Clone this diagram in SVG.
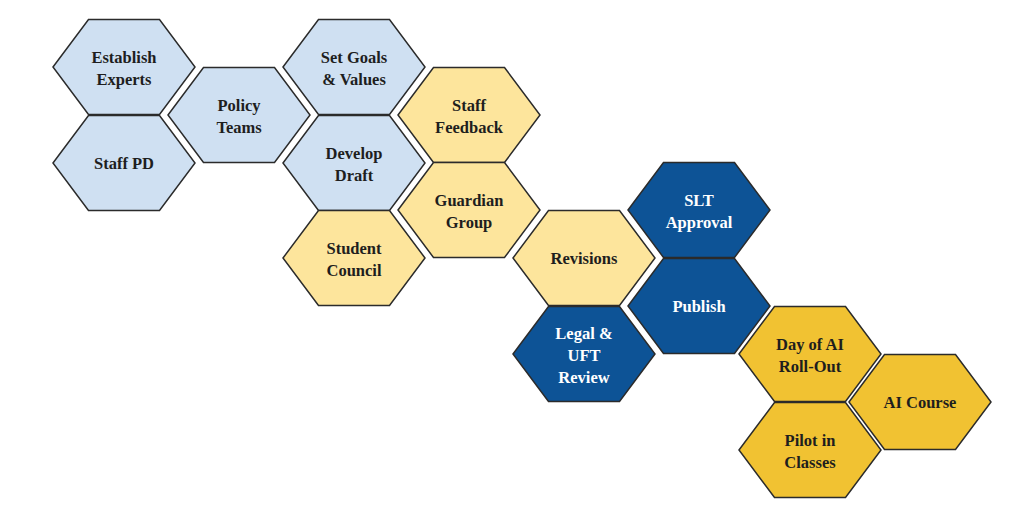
<svg xmlns="http://www.w3.org/2000/svg" width="1024" height="518" viewBox="0 0 1024 518">
<defs>
<polygon id="hx" points="-71,0 -35.5,-47.5 35.5,-47.5 71,0 35.5,47.5 -35.5,47.5"/>
</defs>
<style>
use{stroke:#2b2b2b;stroke-width:1.5}
.lb{fill:#cfe0f2}.ly{fill:#fde59c}.db{fill:#0d5396}.gd{fill:#f1c232}
text{font-family:"Liberation Serif",serif;font-weight:bold;font-size:16.5px;text-anchor:middle;fill:#1e1e1e}
.w{fill:#ffffff}
</style>
<rect width="1024" height="518" fill="#fff"/>
<g id="connectors"/>
<g id="n1" transform="translate(124,67)"><use href="#hx" class="lb"/><text y="-4">Establish</text><text y="18">Experts</text></g>
<g id="n2" transform="translate(124,163)"><use href="#hx" class="lb"/><text y="6">Staff PD</text></g>
<g id="n3" transform="translate(239,115)"><use href="#hx" class="lb"/><text y="-4">Policy</text><text y="18">Teams</text></g>
<g id="n4" transform="translate(354,67)"><use href="#hx" class="lb"/><text y="-4">Set Goals</text><text y="18">&amp; Values</text></g>
<g id="n5" transform="translate(354,163)"><use href="#hx" class="lb"/><text y="-4">Develop</text><text y="18">Draft</text></g>
<g id="n6" transform="translate(469,115)"><use href="#hx" class="ly"/><text y="-4">Staff</text><text y="18">Feedback</text></g>
<g id="n7" transform="translate(354,258)"><use href="#hx" class="ly"/><text y="-4">Student</text><text y="18">Council</text></g>
<g id="n8" transform="translate(469,210)"><use href="#hx" class="ly"/><text y="-4">Guardian</text><text y="18">Group</text></g>
<g id="n9" transform="translate(584,258)"><use href="#hx" class="ly"/><text y="6">Revisions</text></g>
<g id="n10" transform="translate(699,210)"><use href="#hx" class="db"/><text class="w" y="-4">SLT</text><text class="w" y="18">Approval</text></g>
<g id="n11" transform="translate(699,306)"><use href="#hx" class="db"/><text class="w" y="6">Publish</text></g>
<g id="n12" transform="translate(584,354)"><use href="#hx" class="db"/><text class="w" y="-15">Legal &amp;</text><text class="w" y="7">UFT</text><text class="w" y="29">Review</text></g>
<g id="n13" transform="translate(810,354)"><use href="#hx" class="gd"/><text y="-4">Day of AI</text><text y="18">Roll-Out</text></g>
<g id="n14" transform="translate(810,450)"><use href="#hx" class="gd"/><text y="-4">Pilot in</text><text y="18">Classes</text></g>
<g id="n15" transform="translate(920,402)"><use href="#hx" class="gd"/><text y="6">AI Course</text></g>
</svg>
